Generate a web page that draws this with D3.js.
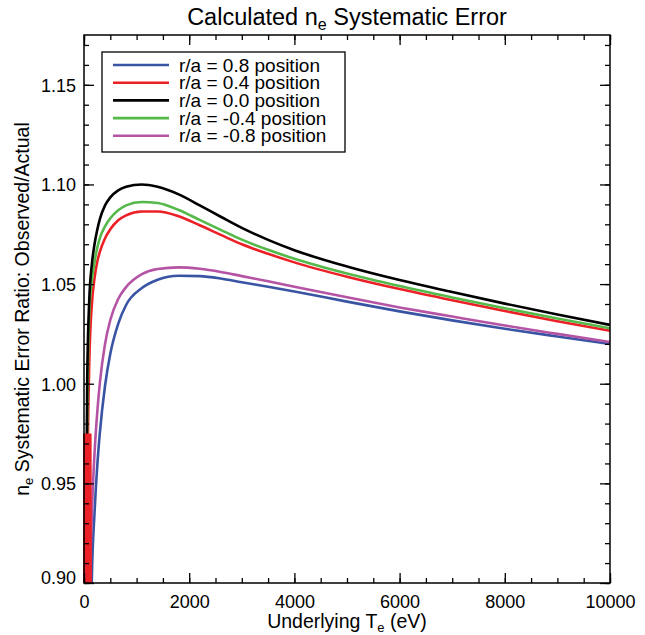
<!DOCTYPE html>
<html>
<head>
<meta charset="utf-8">
<script src="https://cdn.jsdelivr.net/npm/d3@7"></script>
<style>
body { margin: 0; background: #fff; }
text { font-family: "Liberation Sans", Arial, Helvetica, sans-serif; fill: #000; }
</style>
</head>
<body>
<div id="chart"></div>
<script>
//Temperature grid (eV)
var tempEv = [10, 40, 60, 100, 150, 200, 250, 300, 400, 500, 650, 800, 1100, 1400, 1800, 2200, 2600, 3000, 3500, 4000, 5000, 6000, 7000, 8000, 9000, 10000];

//Error ratio for each position
var ratioP08 = [0.20, 0.45, 0.60, 0.80, 0.903, 0.935, 0.958, 0.975, 0.999, 1.015, 1.030, 1.0395, 1.0480, 1.0522, 1.0542, 1.0540, 1.0528, 1.0509, 1.0487, 1.0463, 1.0412, 1.0363, 1.0318, 1.0276, 1.0237, 1.0199];
var ratioP04 = [0.55, 0.80, 0.93, 1.010, 1.040, 1.053, 1.061, 1.066, 1.073, 1.0775, 1.0820, 1.0845, 1.0864, 1.0864, 1.0840, 1.0795, 1.0747, 1.0700, 1.0652, 1.0609, 1.0537, 1.0475, 1.0419, 1.0365, 1.0314, 1.0266];
var ratioP00 = [0.70, 0.90, 1.00, 1.042, 1.060, 1.070, 1.077, 1.0825, 1.0895, 1.0935, 1.0970, 1.0988, 1.1000, 1.0988, 1.0950, 1.0895, 1.0838, 1.0782, 1.0722, 1.0670, 1.0588, 1.0520, 1.0460, 1.0402, 1.0347, 1.0295];
var ratioM04 = [0.65, 0.88, 0.98, 1.035, 1.052, 1.061, 1.068, 1.073, 1.079, 1.0830, 1.0870, 1.0895, 1.0912, 1.0907, 1.0872, 1.0822, 1.0772, 1.0723, 1.0672, 1.0627, 1.0553, 1.0490, 1.0433, 1.0379, 1.0327, 1.0278];
var ratioM08 = [0.30, 0.55, 0.75, 0.88, 0.935, 0.965, 0.985, 1.000, 1.020, 1.032, 1.0425, 1.0485, 1.0550, 1.0576, 1.0584, 1.0577, 1.0561, 1.0540, 1.0514, 1.0487, 1.0434, 1.0383, 1.0337, 1.0292, 1.0250, 1.0209];

//r/a = 0.4 run is noisy below ~140 eV (solid red band at the left edge)
var redLowTempEv = [0, 10, 20, 30, 40, 50, 60, 70, 80, 90, 100, 110, 120, 130, 140];
var redLowRatio = [0.975, 0.85, 0.975, 0.85, 0.975, 0.85, 0.975, 0.85, 0.975, 0.85, 0.975, 0.85, 0.975, 0.85, 0.90];

var seriesNames = ["r/a = 0.8 position", "r/a = 0.4 position", "r/a = 0.0 position", "r/a = -0.4 position", "r/a = -0.8 position"];
var seriesColors = ["#3a54a4", "#ec2027", "#000000", "#54b948", "#b554a4"];
var seriesValues = [ratioP08, ratioP04, ratioP00, ratioM04, ratioM08];
//draw order (black on top like the original)
var drawOrder = [0, 4, 1, 3, 2];

var xTicks = [0, 2000, 4000, 6000, 8000, 10000];
var yTicks = [0.90, 0.95, 1.00, 1.05, 1.10, 1.15];

//System dimensions
var width = 645, height = 635;
var plotLeft = 84, plotRight = 610, plotTop = 35, plotBottom = 583;

var x = d3.scaleLinear().domain([0, 10000]).range([plotLeft, plotRight]);
var y = d3.scaleLinear().domain([0.90, 1.175]).range([plotBottom, plotTop]);

var svg = d3.select("#chart")
    .append("svg")
    .attr("width", width)
    .attr("height", height);

svg.append("defs").append("clipPath")
    .attr("id", "plotclip")
    .append("rect")
    .attr("x", plotLeft - 1)
    .attr("y", plotTop)
    .attr("width", plotRight - plotLeft + 1)
    .attr("height", plotBottom - plotTop);

//Curves
var line = d3.line()
    .x(function(d) { return x(d[0]); })
    .y(function(d) { return y(d[1]); })
    .curve(d3.curveMonotoneX);

var lowLine = d3.line()
    .x(function(d) { return x(d[0]); })
    .y(function(d) { return y(d[1]); });

var plot = svg.append("g")
    .attr("clip-path", "url(#plotclip)");

plot.selectAll("path.series")
    .data(drawOrder)
    .enter()
    .append("path")
    .attr("class", "series")
    .attr("fill", "none")
    .attr("stroke", function(i) { return seriesColors[i]; })
    .attr("stroke-width", 2.6)
    .attr("d", function(i) {
        return line(tempEv.map(function(t, k) { return [t, seriesValues[i][k]]; }));
    });

plot.append("path")
    .attr("fill", "none")
    .attr("stroke", seriesColors[1])
    .attr("stroke-width", 2.6)
    .attr("d", lowLine(redLowTempEv.map(function(t, k) { return [t, redLowRatio[k]]; })));

//Axes, ticks pointing inward on all four sides
var xMinor = d3.range(0, 10001, 500);
var yMinor = d3.range(0, 28).map(function(i) { return +(0.90 + i * 0.01).toFixed(2); });

function styleAxis(g) {
    g.select(".domain").remove();
    g.selectAll(".tick line").attr("stroke", "#000").attr("stroke-width", 1.3);
}

svg.append("g")
    .attr("transform", "translate(0," + plotBottom + ")")
    .call(d3.axisBottom(x).tickValues(xMinor).tickSize(-5).tickFormat(""))
    .call(styleAxis);
svg.append("g")
    .attr("transform", "translate(0," + plotTop + ")")
    .call(d3.axisTop(x).tickValues(xMinor).tickSize(-5).tickFormat(""))
    .call(styleAxis);
svg.append("g")
    .attr("transform", "translate(" + plotLeft + ",0)")
    .call(d3.axisLeft(y).tickValues(yMinor).tickSize(-5).tickFormat(""))
    .call(styleAxis);
svg.append("g")
    .attr("transform", "translate(" + plotRight + ",0)")
    .call(d3.axisRight(y).tickValues(yMinor).tickSize(-5).tickFormat(""))
    .call(styleAxis);

var xAxis = svg.append("g")
    .attr("transform", "translate(0," + plotBottom + ")")
    .call(d3.axisBottom(x).tickValues(xTicks).tickSize(-10).tickPadding(8).tickFormat(d3.format("d")))
    .call(styleAxis);
xAxis.selectAll("text").attr("font-size", 18).attr("dy", "0.95em");

svg.append("g")
    .attr("transform", "translate(0," + plotTop + ")")
    .call(d3.axisTop(x).tickValues(xTicks).tickSize(-10).tickFormat(""))
    .call(styleAxis);

var yAxis = svg.append("g")
    .attr("transform", "translate(" + plotLeft + ",0)")
    .call(d3.axisLeft(y).tickValues(yTicks).tickSize(-10).tickPadding(8).tickFormat(d3.format(".2f")))
    .call(styleAxis);
yAxis.selectAll("text")
    .attr("font-size", 18)
    .attr("dy", function(d) { return d == 0.90 ? "0.05em" : "0.35em"; });

svg.append("g")
    .attr("transform", "translate(" + plotRight + ",0)")
    .call(d3.axisRight(y).tickValues(yTicks).tickSize(-10).tickFormat(""))
    .call(styleAxis);

//Frame
svg.append("rect")
    .attr("x", plotLeft)
    .attr("y", plotTop)
    .attr("width", plotRight - plotLeft)
    .attr("height", plotBottom - plotTop)
    .attr("fill", "none")
    .attr("stroke", "#000")
    .attr("stroke-width", 1.5);

//Titles
var title = svg.append("text")
    .attr("x", (plotLeft + plotRight) / 2)
    .attr("y", 25)
    .attr("text-anchor", "middle")
    .attr("font-size", 23.5);
title.append("tspan").text("Calculated n");
title.append("tspan").attr("font-size", 16).attr("dy", 5).text("e");
title.append("tspan").attr("dy", -5).text(" Systematic Error");

var xLabel = svg.append("text")
    .attr("x", (plotLeft + plotRight) / 2)
    .attr("y", 628)
    .attr("text-anchor", "middle")
    .attr("font-size", 19.5);
xLabel.append("tspan").text("Underlying T");
xLabel.append("tspan").attr("font-size", 13).attr("dy", 4).text("e");
xLabel.append("tspan").attr("dy", -4).text(" (eV)");

var yLabel = svg.append("text")
    .attr("transform", "translate(29," + (plotTop + plotBottom) / 2 + ") rotate(-90)")
    .attr("text-anchor", "middle")
    .attr("font-size", 19.5);
yLabel.append("tspan").text("n");
yLabel.append("tspan").attr("font-size", 13).attr("dy", 4).text("e");
yLabel.append("tspan").attr("dy", -4).text(" Systematic Error Ratio: Observed/Actual");

//Legend
var legend = svg.append("g");
legend.append("rect")
    .attr("x", 102)
    .attr("y", 52)
    .attr("width", 243)
    .attr("height", 100)
    .attr("fill", "#fff")
    .attr("stroke", "#000")
    .attr("stroke-width", 1.3);

var rows = legend.selectAll("g.row")
    .data(seriesNames)
    .enter()
    .append("g")
    .attr("class", "row")
    .attr("transform", function(d, i) { return "translate(0," + (65 + i * 17.7) + ")"; });

rows.append("line")
    .attr("x1", 113)
    .attr("x2", 169)
    .attr("stroke", function(d, i) { return seriesColors[i]; })
    .attr("stroke-width", 2.6);

rows.append("text")
    .attr("x", 179)
    .attr("dy", "0.35em")
    .attr("font-size", 19)
    .text(function(d) { return d; });
</script>
</body>
</html>
